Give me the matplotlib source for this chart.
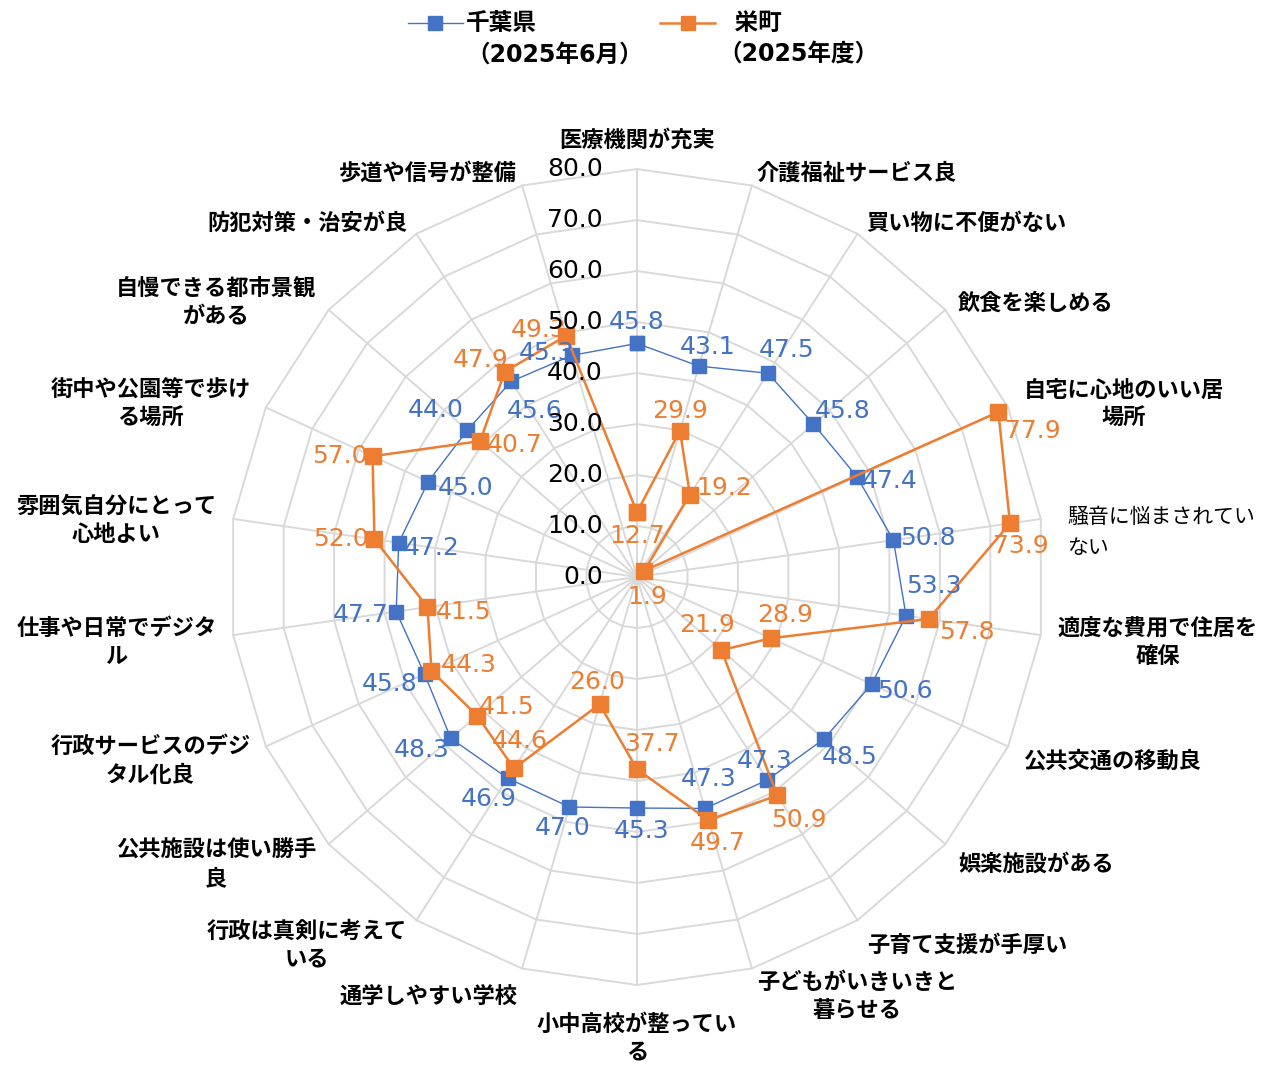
import numpy as np
import matplotlib
matplotlib.use('Agg')
import matplotlib.pyplot as plt
from matplotlib.lines import Line2D
from matplotlib.transforms import offset_copy

plt.rcParams['font.family'] = ['Noto Sans CJK JP', 'DejaVu Sans']
num_font = ['DejaVu Sans', 'Noto Sans CJK JP']

# 項目（上から時計回り）
categories = [
    '医療機関が充実', '介護福祉サービス良', '買い物に不便がない', '飲食を楽しめる',
    '自宅に心地のいい居\n場所', '騒音に悩まされてい\nない', '適度な費用で住居を\n確保',
    '公共交通の移動良', '娯楽施設がある', '子育て支援が手厚い',
    '子どもがいきいきと\n暮らせる', '小中高校が整ってい\nる', '通学しやすい学校',
    '行政は真剣に考えて\nいる', '公共施設は使い勝手\n良', '行政サービスのデジ\nタル化良',
    '仕事や日常でデジタ\nル', '雰囲気自分にとって\n心地よい', '街中や公園等で歩け\nる場所',
    '自慢できる都市景観\nがある', '防犯対策・治安が良', '歩道や信号が整備',
]
chiba = [45.8, 43.1, 47.5, 45.8, 47.4, 50.8, 53.3, 50.6, 48.5, 47.3, 47.3,
         45.3, 47.0, 46.9, 48.3, 45.8, 47.7, 47.2, 45.0, 44.0, 45.6, 45.3]
sakae = [12.7, 29.9, 19.2, 1.9, 77.9, 73.9, 57.8, 28.9, 21.9, 50.9, 49.7,
         37.7, 26.0, 44.6, 41.5, 44.3, 41.5, 52.0, 57.0, 40.7, 47.9, 49.3]
ticks = [0, 10, 20, 30, 40, 50, 60, 70, 80]
labels = ['千葉県\n（2025年6月）', '  栄町\n（2025年度）']

# ラベルのずらし量（ピクセル）
chiba_off = [(0, 21), (9, 19), (19, 23), (29, 13), (33, -4), (35, 2), (28, 30),
             (33, -7), (26, -18), (-3, 19), (4, 29), (5, -23), (-7, -21), (-19, -21),
             (-29, -12), (-35, -10), (-36, -3), (33, -5), (37, -6), (-32, 20),
             (23, -30), (-25, 2)]
sakae_off = [(0, -24), (0, 20), (34, 7), (3, -26), (34, -19), (11, -23), (38, -13),
             (14, 23), (-14, 25), (22, -25), (9, -23), (15, 25), (-3, 22), (6, 27),
             (30, 9), (37, 6), (36, -5), (-34, 0), (-33, 0), (35, -4), (-24, 12),
             (-28, 6)]

blue = '#4472C4'
orange = '#ED7D31'
grid = '#D9D9D9'

n = len(categories)
ang = np.arange(n) * 2 * np.pi / n
ang_c = np.append(ang, ang[0])

fig = plt.figure(figsize=(12.68, 10.65), dpi=100)
ax = fig.add_axes([0.1806, 0.0751, 0.6435, 0.7662], polar=True)
ax.set_theta_zero_location('N')
ax.set_theta_direction(-1)
ax.set_ylim(0, 80)
ax.axis('off')

# 多角形のグリッド
for t in ticks[1:]:
    ax.plot(ang_c, [t] * (n + 1), color=grid, lw=1.4, zorder=1, clip_on=False)
for a in ang:
    ax.plot([a, a], [0, 80], color=grid, lw=1.4, zorder=1, clip_on=False)

# 目盛ラベル
for t in ticks:
    tr = offset_copy(ax.transData, fig=fig, x=-34, y=0, units='dots')
    ax.text(0, t, f'{t:.1f}', transform=tr, ha='right', va='center',
            fontsize=18, family=num_font, color='#000000', zorder=6)

# 系列
ax.plot(ang_c, chiba + chiba[:1], color=blue, lw=1.0, marker='s', ms=10,
        zorder=3, clip_on=False)
ax.plot(ang_c, sakae + sakae[:1], color=orange, lw=1.8, marker='s', ms=11,
        zorder=4, clip_on=False)

for vals, offs, col in [(chiba, chiba_off, blue), (sakae, sakae_off, orange)]:
    for a, v, (dx, dy) in zip(ang, vals, offs):
        tr = offset_copy(ax.transData, fig=fig, x=dx, y=dy, units='dots')
        ax.text(a, v, f'{v:.1f}', transform=tr, ha='center', va='center',
                fontsize=18, family=num_font, color=col, zorder=5)

# 項目ラベル
for i, (a, c) in enumerate(zip(ang, categories)):
    s, co = np.sin(a), np.cos(a)
    ha = 'center' if abs(s) < 0.1 else ('left' if s > 0 else 'right')
    va = 'center' if abs(co) < 0.99 else ('bottom' if co > 0 else 'top')
    r = 85.4 if va == 'top' else 83.3
    dy = 0 if va != 'center' else -4 - 8 * max(0.0, -co)
    if i == 5:
        tr = offset_copy(ax.transData, fig=fig, x=10, y=-16, units='dots')
        ax.text(a, 83.3, c, transform=tr, ha='left', va='center', fontsize=15,
                multialignment='left', linespacing=1.55)
    else:
        tr = offset_copy(ax.transData, fig=fig, x=0, y=dy, units='dots')
        ax.text(a, r, c, transform=tr, ha=ha, va=va, fontsize=16, weight='bold',
                multialignment='center', linespacing=1.3)

# 凡例
for x0, col, lw, lab in [(408, blue, 1.0, labels[0]), (660, orange, 1.8, labels[1])]:
    y = 1065 - 23
    fig.add_artist(Line2D([x0 / 1268, (x0 + 55) / 1268], [y / 1065, y / 1065],
                          color=col, lw=lw, zorder=5))
    fig.add_artist(Line2D([(x0 + 27.5) / 1268], [y / 1065], color=col,
                          marker='s', ms=10, lw=0))
    fig.text((x0 + 58) / 1268, (1065 - 11) / 1065, lab, ha='left', va='top',
             fontsize=17, family=num_font, weight='bold', linespacing=1.4)

fig.savefig('out.png', dpi=100, facecolor='white')
